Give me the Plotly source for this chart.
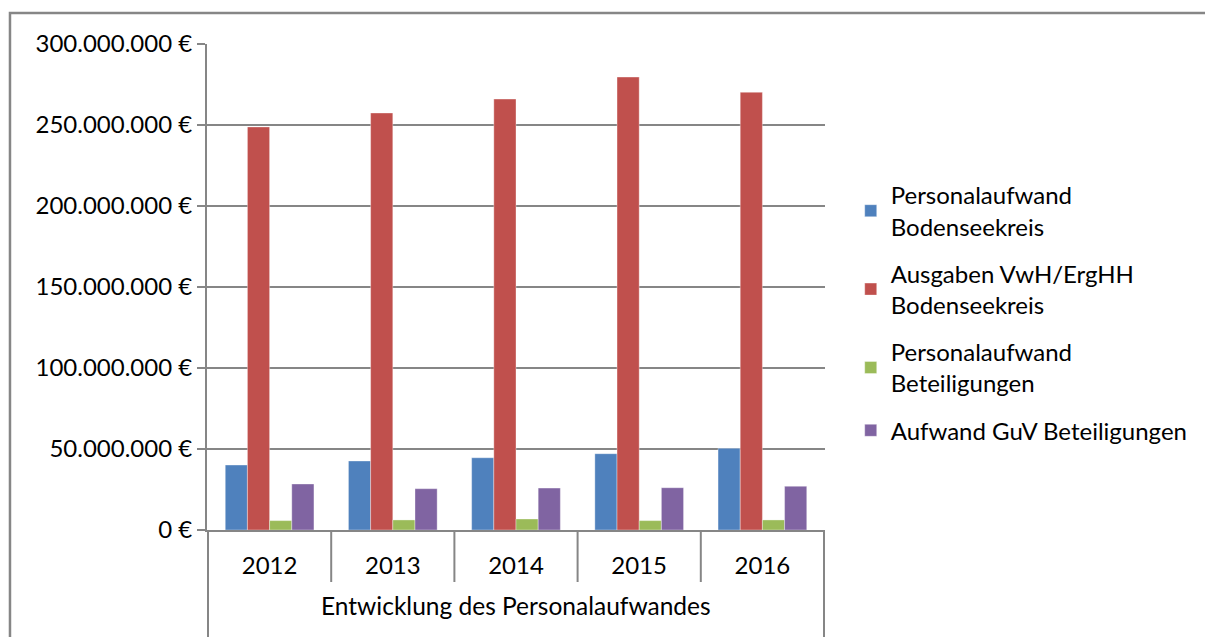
import plotly.graph_objects as go

# Werte (in Euro)
jahre = ["2012", "2013", "2014", "2015", "2016"]
personal_bodensee = [40.1e6, 42.6e6, 44.6e6, 47.1e6, 50.4e6]
ausgaben_bodensee = [248.8e6, 257.4e6, 266.0e6, 279.6e6, 270.2e6]
personal_beteiligungen = [5.8e6, 6.2e6, 6.8e6, 5.8e6, 6.2e6]
aufwand_guv = [28.4e6, 25.5e6, 25.9e6, 26.1e6, 27.0e6]

serien = [
    ("Personalaufwand<br>Bodenseekreis", personal_bodensee, "#4F81BD"),
    ("Ausgaben VwH/ErgHH<br>Bodenseekreis", ausgaben_bodensee, "#C0504D"),
    ("Personalaufwand<br>Beteiligungen", personal_beteiligungen, "#9BBB59"),
    ("Aufwand GuV Beteiligungen", aufwand_guv, "#8064A2"),
]

FONT = "Lato, Carlito, Calibri, sans-serif"
GRAU = "#868686"

fig = go.Figure()
for i, (name, werte, farbe) in enumerate(serien):
    fig.add_trace(go.Bar(
        x=jahre, y=werte, name=name, legendgroup=f"g{i}",
        marker=dict(color=farbe, line=dict(color="rgba(255,255,255,0.5)", width=0.7)),
    ))

# Trennlinien der Kategorieachse
n = len(jahre)
shapes = []
for k in range(n + 1):
    aussen = k in (0, n)
    shapes.append(dict(
        type="line", xref="x", yref="paper",
        x0=k - 0.5, x1=k - 0.5, y0=0, y1=-0.24 if aussen else -0.107,
        line=dict(color=GRAU, width=2),
    ))
# Rahmen des Diagrammbereichs
shapes.append(dict(
    type="rect", xref="paper", yref="paper",
    x0=-0.3188, x1=1.64, y0=-0.25, y1=1.0638,
    line=dict(color=GRAU, width=2.5),
))

fig.update_layout(
    width=1205, height=637,
    margin=dict(l=207, r=380, t=44, b=107),
    paper_bgcolor="white", plot_bgcolor="white",
    separators=",.",
    font=dict(family=FONT, size=24, color="#000000"),
    barmode="group", bargap=0.28, bargroupgap=0,
    shapes=shapes,
    xaxis=dict(
        type="category", showgrid=False, showline=True, linecolor=GRAU, linewidth=2,
        ticks="", ticklabelstandoff=13, tickfont=dict(size=24),
    ),
    yaxis=dict(
        range=[0, 300e6], dtick=50e6, tickformat=",d", ticksuffix=" €",
        showgrid=True, gridcolor=GRAU, gridwidth=2,
        showline=True, linecolor=GRAU, linewidth=2,
        ticks="outside", ticklen=8, tickcolor=GRAU, tickwidth=2,
        zeroline=False, tickfont=dict(size=24),
    ),
    legend=dict(
        xref="container", yref="container",
        x=0.706, y=0.7284, xanchor="left", yanchor="top",
        font=dict(size=24), tracegroupgap=13, itemwidth=30,
        bgcolor="rgba(0,0,0,0)",
    ),
    annotations=[dict(
        text="Entwicklung des Personalaufwandes", xref="paper", yref="paper",
        x=0.5, y=-0.155, xanchor="center", yanchor="middle", showarrow=False,
        font=dict(size=24.5),
    )],
)

fig.write_html("out.html", config={"displayModeBar": False},
               post_script="document.body.style.margin='0';")
